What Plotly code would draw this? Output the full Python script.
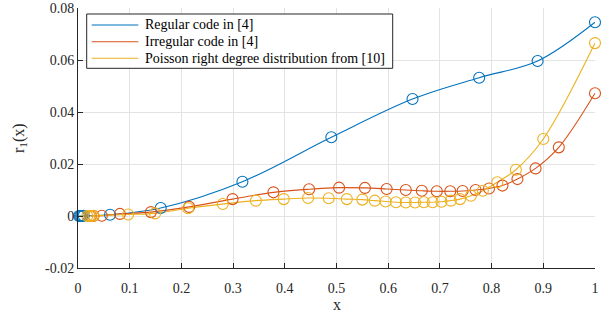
import plotly.graph_objects as go

# ---- data ----
x_ticks = [0, 0.1, 0.2, 0.3, 0.4, 0.5, 0.6, 0.7, 0.8, 0.9, 1.0]
x_tick_labels = ["0", "0.1", "0.2", "0.3", "0.4", "0.5", "0.6", "0.7", "0.8", "0.9", "1"]
y_ticks = [-0.02, 0, 0.02, 0.04, 0.06, 0.08]
y_tick_labels = ["-0.02", "0", "0.02", "0.04", "0.06", "0.08"]

regular_x = [0.002, 0.004, 0.006, 0.008, 0.011, 0.062, 0.160, 0.318, 0.490, 0.647, 0.776, 0.889, 1.0]
regular_y = [0.0, 0.0, 0.0, 0.0, 0.0001, 0.0005, 0.0031, 0.0132, 0.0303, 0.0450, 0.0532, 0.0596, 0.0745]

irregular_x = [0.025, 0.030, 0.046, 0.081, 0.141, 0.215, 0.299, 0.378, 0.447, 0.505, 0.555, 0.597,
               0.634, 0.665, 0.694, 0.720, 0.744, 0.769, 0.795, 0.821, 0.850, 0.885, 0.930, 1.0]
irregular_y = [0.0, 0.0, 0.0001, 0.0008, 0.0015, 0.0035, 0.0065, 0.0091, 0.0103, 0.0109, 0.0108, 0.0104,
               0.0100, 0.0097, 0.0095, 0.0095, 0.0096, 0.0100, 0.0106, 0.0117, 0.0142, 0.0183, 0.0264, 0.0472]

poisson_x = [0.018, 0.022, 0.026, 0.030, 0.097, 0.149, 0.213, 0.280, 0.344, 0.398, 0.445, 0.485, 0.520,
             0.550, 0.574, 0.595, 0.615, 0.634, 0.652, 0.669, 0.686, 0.703, 0.721, 0.739, 0.760, 0.783,
             0.811, 0.847, 0.900, 1.0]
poisson_y = [0.0, 0.0, 0.0, 0.0001, 0.0006, 0.0010, 0.0030, 0.0046, 0.0059, 0.0065, 0.0069, 0.0068, 0.0065,
             0.0063, 0.0059, 0.0056, 0.0053, 0.0052, 0.0052, 0.0053, 0.0053, 0.0055, 0.0059, 0.0065, 0.0078,
             0.0097, 0.0130, 0.0178, 0.0296, 0.0665]

series_names = ["Regular code in [4]", "Irregular code in [4]", "Poisson right degree distribution from [10]"]
series_colors = ["#0072BD", "#D95319", "#EDB120"]
series_x = [regular_x, irregular_x, poisson_x]
series_y = [regular_y, irregular_y, poisson_y]

FONT = "Liberation Serif, Times New Roman, serif"
TXT = "#262626"

W, H = 608, 322
L, R, T, B = 78, 13, 8, 54
PW, PH = W - L - R, H - T - B


def px(xp):  # pixel -> paper x
    return (xp - L) / PW


def py(yp):  # pixel -> paper y
    return (H - B - yp) / PH


fig = go.Figure()
for name, xs, ys, col in zip(series_names, series_x, series_y, series_colors):
    fig.add_trace(go.Scatter(x=xs, y=ys, mode="lines", name=name, showlegend=False,
                             line=dict(color=col, width=1.1, shape="spline", smoothing=1.0)))
for name, xs, ys, col in zip(series_names, series_x, series_y, series_colors):
    fig.add_trace(go.Scatter(x=xs, y=ys, mode="markers", name=name, showlegend=False,
                             hoverinfo="skip", cliponaxis=False,
                             marker=dict(symbol="circle-open", size=11, color=col,
                                         line=dict(color=col, width=1.1))))

axis_common = dict(
    showgrid=True, gridcolor="#e3e3e3", gridwidth=1,
    showline=True, linecolor=TXT, linewidth=1, mirror=False,
    ticks="inside", ticklen=5, tickwidth=1, tickcolor=TXT,
    zeroline=False, automargin=False,
    tickfont=dict(family=FONT, size=14, color=TXT),
)

fig.update_xaxes(range=[0, 1], tickvals=x_ticks, ticktext=x_tick_labels,
                 ticklabelstandoff=7, **axis_common)
fig.update_yaxes(range=[-0.02, 0.08], tickvals=y_ticks, ticktext=y_tick_labels,
                 **axis_common)

# axis titles
annotations = [
    dict(text="x", x=px(337), y=py(304), xref="paper", yref="paper",
         xanchor="center", yanchor="middle", showarrow=False,
         font=dict(family=FONT, size=16, color=TXT)),
    dict(text="r<sub>1</sub>(x)", x=px(19), y=py(138), xref="paper", yref="paper",
         xanchor="center", yanchor="middle", showarrow=False, textangle=-90,
         font=dict(family=FONT, size=16, color=TXT)),
]

# legend (drawn manually to match the compact MATLAB layout)
shapes = [dict(type="rect", xref="paper", yref="paper",
               x0=px(86.7), x1=px(392.7), y0=py(68.3), y1=py(14),
               line=dict(color=TXT, width=1), fillcolor="white", layer="above")]
row_y = [25, 41.7, 58.3]
for name, col, ry in zip(series_names, series_colors, row_y):
    shapes.append(dict(type="line", xref="paper", yref="paper",
                       x0=px(91.7), x1=px(138.3), y0=py(ry), y1=py(ry),
                       line=dict(color=col, width=1.1), layer="above"))
    annotations.append(dict(text=name, x=px(142.5), y=py(ry), xref="paper", yref="paper",
                            xanchor="left", yanchor="middle", showarrow=False,
                            font=dict(family=FONT, size=14, color="#000000")))

fig.update_layout(
    width=W, height=H,
    margin=dict(l=L, r=R, t=T, b=B, autoexpand=False),
    paper_bgcolor="white", plot_bgcolor="white",
    font=dict(family=FONT, color=TXT),
    showlegend=False,
    shapes=shapes,
    annotations=annotations,
)

fig.write_html("out.html",
               config={"displayModeBar": False},
               post_script="document.body.style.margin='0px';document.body.style.padding='0px';")
